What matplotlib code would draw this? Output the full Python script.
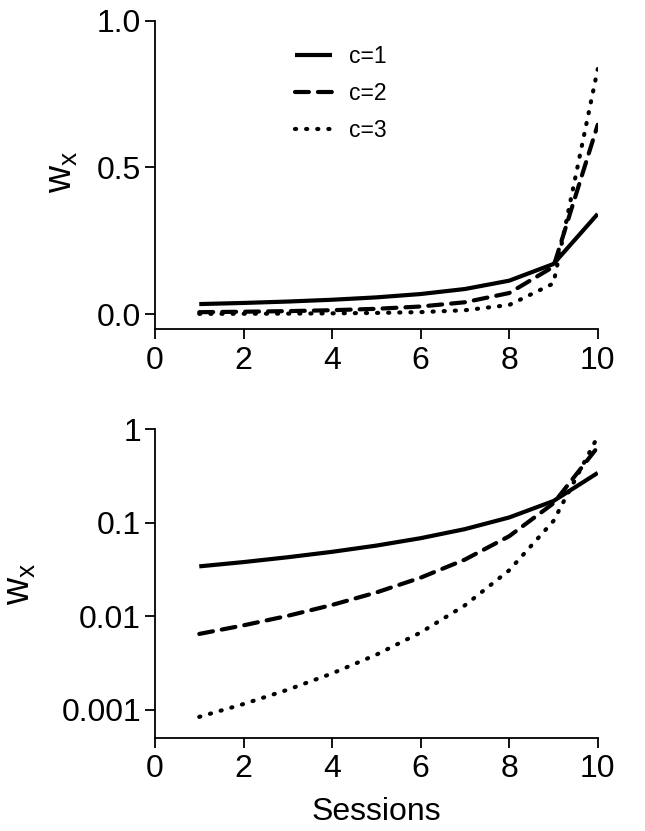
import matplotlib

matplotlib.use("Agg")
import matplotlib.pyplot as plt

plt.rcParams["font.family"] = ["Liberation Sans", "DejaVu Sans"]
plt.rcParams["mathtext.fontset"] = "custom"
plt.rcParams["mathtext.rm"] = "Liberation Sans"
plt.rcParams["lines.scale_dashes"] = False

sessions = [1, 2, 3, 4, 5, 6, 7, 8, 9, 10]
w_c1 = [0.0341, 0.0379, 0.0427, 0.0488, 0.0569, 0.0683, 0.0854, 0.1138, 0.1707, 0.3414]
w_c2 = [0.00645, 0.00797, 0.01008, 0.01317, 0.01792, 0.0258, 0.0403, 0.0717, 0.1613, 0.6453]
w_c3 = [0.000835, 0.001146, 0.001631, 0.002435, 0.003866, 0.00668, 0.01305, 0.03093, 0.1044, 0.8351]
labels = ["c=1", "c=2", "c=3"]

FS = 23
LW = 3.0
styles = [
    dict(linestyle="-", solid_capstyle="butt"),
    dict(dashes=(10, 6.5), dash_capstyle="round"),
    dict(dashes=(0.8, 7.2), dash_capstyle="round"),
]

fig = plt.figure(figsize=(6.45, 8.31), dpi=100)
ax1 = fig.add_axes([0.2403, 0.6037, 0.6864, 0.3714])
ax2 = fig.add_axes([0.2403, 0.1123, 0.6864, 0.3711])

for ax in (ax1, ax2):
    for ys, lab, st in zip((w_c1, w_c2, w_c3), labels, styles):
        ax.plot(sessions, ys, color="black", lw=LW, label=lab, **st)
    for s in ("top", "right"):
        ax.spines[s].set_visible(False)
    for s in ("left", "bottom"):
        ax.spines[s].set_linewidth(1.3)
    ax.tick_params(axis="both", which="major", labelsize=FS, length=7, width=1.3,
                   direction="out", pad=3)
    ax.tick_params(axis="x", pad=5)
    ax.set_xlim(0, 10)
    ax.set_xticks([0, 2, 4, 6, 8, 10])

ax1.set_ylim(-0.052, 1.0)
ax1.set_yticks([0.0, 0.5, 1.0])
ax1.set_yticklabels(["0.0", "0.5", "1.0"])
ax1.set_ylabel(r"$\mathrm{w_x}$", fontsize=27)
ax1.yaxis.set_label_coords(-0.17, 0.51)
ax1.legend(loc="upper left", bbox_to_anchor=(0.316, 0.92), frameon=False,
           fontsize=16.5, handlelength=1.6, handletextpad=0.75, labelspacing=0.6,
           borderpad=0, borderaxespad=0)

ax2.set_yscale("log")
ax2.set_ylim(0.0005, 1.0)
ax2.set_yticks([0.001, 0.01, 0.1, 1])
ax2.set_yticklabels(["0.001", "0.01", "0.1", "1"])
ax2.minorticks_off()
ax2.tick_params(axis="y", which="minor", length=0)
ax2.set_ylabel(r"$\mathrm{w_x}$", fontsize=27)
ax2.yaxis.set_label_coords(-0.265, 0.5)
ax2.set_xlabel("Sessions", fontsize=FS, labelpad=9)

fig.savefig("out.png", dpi=100)
